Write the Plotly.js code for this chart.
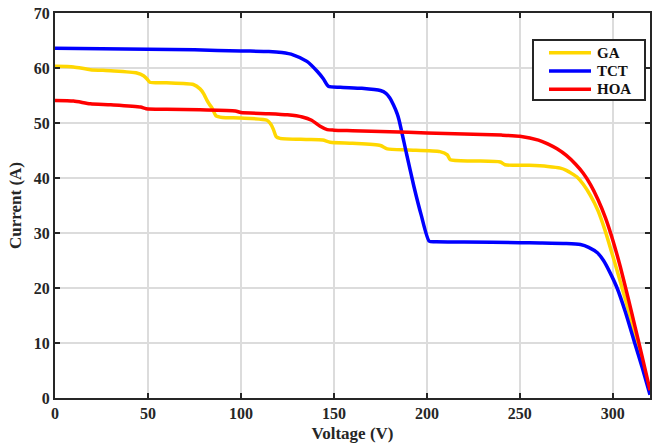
<!DOCTYPE html>
<html>
<head>
<meta charset="utf-8">
<script src="https://cdn.plot.ly/plotly-3.0.1.min.js"></script>
<style>html,body{margin:0;padding:0;background:#fff;}#chart{width:654px;height:443px;}</style>
</head>
<body>
<div id="chart"></div>
<script>
// GA curve (voltage V, current A)
const gaV = [0, 10, 19, 30, 44, 47.6, 49.5, 51, 60, 74.4, 78, 80, 81.6, 83, 84.5, 86.6, 90, 100, 114, 116, 117.5, 119, 121, 135, 144, 148, 160, 175, 178.7, 190, 207, 211, 212.6, 225, 239.5, 242, 255, 265, 271.8, 275, 278, 281, 284, 288, 292, 296, 300, 304, 308, 312, 316, 320];
const gaI = [60.3, 60.2, 59.7, 59.5, 59.1, 58.6, 58.0, 57.4, 57.3, 57.0, 56.2, 55.3, 54.2, 53.4, 52.7, 51.3, 51.0, 50.9, 50.5, 49.8, 48.8, 47.5, 47.2, 47.0, 46.9, 46.5, 46.3, 45.9, 45.3, 45.1, 44.8, 44.2, 43.3, 43.1, 42.9, 42.4, 42.3, 42.1, 41.8, 41.4, 40.8, 40.1, 38.9, 36.8, 34.1, 30.3, 25.8, 21.2, 16.4, 11.4, 6.3, 1.1];

// TCT curve
const tctV = [0, 25, 50, 75, 100, 115, 122, 128, 135.5, 141, 144.4, 147, 153.4, 165, 175, 178, 180, 182, 184, 185, 189, 193, 197, 201.3, 205, 220, 250, 261, 275, 282.6, 287, 291.7, 295, 298.5, 302.3, 306.8, 311.6, 316, 320];
const tctI = [63.6, 63.5, 63.4, 63.3, 63.1, 63.0, 62.8, 62.4, 61.2, 59.4, 58.0, 56.7, 56.5, 56.3, 55.9, 55.4, 54.6, 53.3, 51.7, 50.6, 44.5, 38.5, 33.2, 28.5, 28.4, 28.35, 28.25, 28.2, 28.1, 27.9, 27.4, 26.4, 25.0, 22.8, 20.0, 15.6, 10.2, 5.3, 0.6];

// HOA curve
const hoaV = [0, 10, 19, 30, 46, 49, 60, 78, 97, 100, 115, 125, 133, 138, 142.6, 146.4, 150, 160, 180, 200, 220, 240, 250, 260, 265, 270, 275, 280, 284, 288, 292, 296, 300, 304, 308, 312, 316, 320];
const hoaI = [54.1, 54.0, 53.5, 53.3, 52.9, 52.6, 52.5, 52.4, 52.2, 51.9, 51.7, 51.5, 51.1, 50.5, 49.4, 48.8, 48.7, 48.6, 48.4, 48.2, 48.0, 47.8, 47.6, 46.9, 46.2, 45.3, 44.1, 42.5, 40.9, 38.8, 36.1, 32.8, 28.7, 23.9, 18.5, 12.9, 7.2, 1.4];

const seriesNames = ['GA', 'TCT', 'HOA'];
const seriesColors = ['#FFD700', '#0000FF', '#FF0000'];
const xTicks = [0, 50, 100, 150, 200, 250, 300];
const yTicks = [0, 10, 20, 30, 40, 50, 60, 70];

const fontFam = '"Liberation Serif", "Times New Roman", serif';
const W = 654, H = 443, M = {l: 55, r: 4, t: 13, b: 45};
const pw = W - M.l - M.r, ph = H - M.t - M.b;
const px = v => (v - M.l) / pw;          // pixel x -> paper x
const py = v => (H - M.b - v) / ph;      // pixel y -> paper y

const data = [[gaV, gaI], [tctV, tctI], [hoaV, hoaI]];
const traces = data.map((d, i) => ({
  x: d[0], y: d[1], name: seriesNames[i], mode: 'lines',
  line: {color: seriesColors[i], width: 3.5, shape: 'spline', smoothing: 0.6}
}));

const axisCommon = {
  showline: true, linewidth: 2, linecolor: '#262626', mirror: 'ticks',
  ticks: 'inside', ticklen: 5, tickwidth: 2, tickcolor: '#262626',
  showgrid: true, gridcolor: '#dcdcdc', gridwidth: 1.5, zeroline: false,
  tickfont: {family: fontFam, size: 16, color: '#262626'}
};

// legend box drawn as layout decoration
const shapes = [{type: 'rect', xref: 'paper', yref: 'paper', x0: px(533), x1: px(645), y0: py(100), y1: py(40),
  fillcolor: '#fff', line: {color: '#262626', width: 2}, layer: 'above'}];
const annotations = [];
const rowY = [52.7, 70.9, 89.2];
seriesNames.forEach((n, i) => {
  shapes.push({type: 'line', xref: 'paper', yref: 'paper', x0: px(549), x1: px(591), y0: py(rowY[i]), y1: py(rowY[i]),
    line: {color: seriesColors[i], width: 3.5}, layer: 'above'});
  annotations.push({xref: 'paper', yref: 'paper', x: px(595), y: py(rowY[i]), xanchor: 'left', yanchor: 'middle',
    text: '<b>' + n + '</b>', showarrow: false, font: {family: fontFam, size: 15, color: '#111'}});
});

const layout = {
  width: W, height: H, margin: M,
  paper_bgcolor: '#fff', plot_bgcolor: '#fff',
  showlegend: false,
  shapes: shapes, annotations: annotations,
  xaxis: Object.assign({}, axisCommon, {
    range: [0, 320], tickvals: xTicks, ticktext: xTicks.map(t => '<b>' + t + '</b>'),
    title: {text: '<b>Voltage (V)</b>', standoff: 6, font: {family: fontFam, size: 17, color: '#262626'}}
  }),
  yaxis: Object.assign({}, axisCommon, {
    range: [0, 70], tickvals: yTicks, ticktext: yTicks.map(t => '<b>' + t + '</b>'),
    title: {text: '<b>Current (A)</b>', standoff: 8, font: {family: fontFam, size: 17, color: '#262626'}}
  })
};

Plotly.newPlot('chart', traces, layout, {displayModeBar: false, staticPlot: true});
</script>
</body>
</html>
